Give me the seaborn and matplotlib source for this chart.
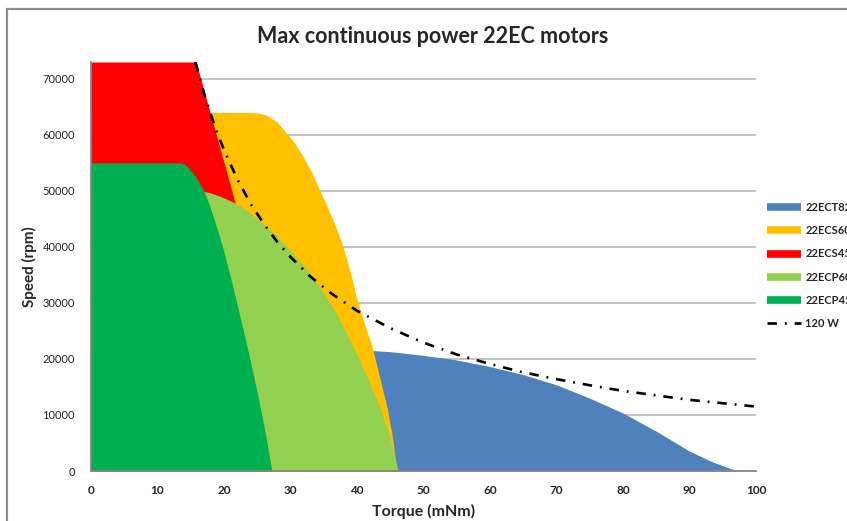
import matplotlib
matplotlib.use("Agg")
import matplotlib.pyplot as plt
import seaborn as sns
import pandas as pd
from matplotlib.lines import Line2D
from matplotlib.patches import Rectangle

# values (torque in mNm, speed in rpm)
t82_torque = [0, 42.4, 45, 49.6, 54.6, 60, 65, 70, 75, 80, 85, 90, 93.5, 97.2]
t82_speed = [21500, 21500, 21300, 20700, 19900, 18640, 17200, 15380, 13000, 10350, 7100, 3550, 1600, 0]

s60_torque = [0, 23.6, 25.0, 26.4, 28.0, 29.4, 30.7, 31.9, 33.2, 34.4, 35.4, 36.4, 37.2, 37.9, 39.0, 39.9,
              41.0, 42.2, 43.4, 44.6, 45.4, 46.0]
s60_speed = [64000, 64000, 63900, 63500, 62300, 60300, 58400, 56100, 53300, 50100, 47500, 44800, 42400, 40000,
             35500, 31100, 26700, 22500, 16800, 10900, 5500, 0]

s45_torque = [0, 15.8, 21.7, 27.0, 32.8]
s45_speed = [73000, 73000, 47800, 25000, 0]

p60_torque = [0, 16.0, 16.6, 17.8, 19.0, 20.3, 21.7, 23.1, 24.5, 26.0, 27.5, 30.0, 32.5, 34.6, 36.6, 38.6,
              40.6, 42.1, 43.6, 45.0, 46.2]
p60_speed = [50000, 50000, 50000, 49700, 49200, 48600, 47800, 46800, 45500, 44000, 42400, 39400, 35900, 32500,
             28750, 24200, 19230, 15200, 10900, 5800, 0]

p45_torque = [0, 13.4, 14.0, 14.6, 15.7, 16.9, 17.7, 18.5, 19.2, 19.9, 21.2, 22.4, 23.7, 24.9, 26.1, 27.2]
p45_speed = [55000, 55000, 54800, 54200, 52600, 50200, 47800, 45000, 42300, 39500, 33500, 27600, 21000, 14500,
             7500, 0]

w120_torque = [15.7, 17, 18, 19, 20, 22, 24, 26, 28, 30, 33, 36, 40, 45, 50, 55, 60, 65, 70, 75, 80, 85, 90, 95, 100]
w120_speed = [73000, 67400, 63700, 60300, 57300, 52100, 47700, 44100, 40900, 38200, 34700, 31800, 28600, 25500,
              22900, 20800, 19100, 17600, 16400, 15300, 14300, 13500, 12700, 12100, 11500]

labels = ["22ECT82", "22ECS60", "22ECS45", "22ECP60", "22ECP45"]
colors = ["#4F81BD", "#FFC000", "#FF0000", "#92D050", "#00B050"]
xticks = list(range(0, 101, 10))
yticks = list(range(0, 70001, 10000))

sns.set_theme(style="white")
plt.rcParams["font.family"] = ["Lato", "DejaVu Sans"]

fig = plt.figure(figsize=(8.47, 5.21), dpi=100)
ax = fig.add_axes([91 / 847, 50 / 521, 665 / 847, 409 / 521])

series = [(t82_torque, t82_speed), (s60_torque, s60_speed), (s45_torque, s45_speed),
          (p60_torque, p60_speed), (p45_torque, p45_speed)]
for (tq, sp), col in zip(series, colors):
    ax.fill_between(tq, sp, 0, color=col, linewidth=0, zorder=2)

dashdot = (0, (3.6, 3.0, 0.7, 3.0))
w120 = pd.DataFrame({"Torque": w120_torque, "Speed": w120_speed})
sns.lineplot(data=w120, x="Torque", y="Speed", ax=ax, color="black", lw=1.9,
             linestyle=dashdot, zorder=4)

ax.set_xlim(0, 100)
ax.set_ylim(0, 73000)
ax.set_xticks(xticks)
ax.set_yticks(yticks)
ax.set_xticklabels([str(v) for v in xticks], fontsize=8.5, fontweight="bold")
ax.set_yticklabels([str(v) for v in yticks], fontsize=8)
ax.tick_params(axis="both", direction="out", length=4, width=1, color="#868686")
ax.tick_params(axis="y", pad=7.5)
ax.tick_params(axis="x", pad=6)

for v in yticks[1:]:
    ax.axhline(v, color="#BFBFBF", lw=1.3, zorder=1)

for side in ["top", "right"]:
    ax.spines[side].set_visible(False)
for side in ["left", "bottom"]:
    ax.spines[side].set_color("#868686")
    ax.spines[side].set_linewidth(1.3)
    ax.spines[side].set_zorder(5)

ax.set_xlabel("Torque (mNm)", fontsize=11.5, fontweight="bold", labelpad=5.5)
ax.set_ylabel("Speed (rpm)", fontsize=11, fontweight="bold", labelpad=4)
fig.text(0.511, 0.929, "Max continuous power 22EC motors", ha="center", va="center",
         fontsize=15.5, fontweight="bold")

handles = [Line2D([0], [0], color=c, lw=5.5, solid_capstyle="butt") for c in colors]
handles.append(Line2D([0], [0], color="black", lw=1.9, linestyle=dashdot))
fig.legend(handles, labels + ["120 W"], loc="upper left", bbox_to_anchor=(767 / 847, 1 - 202 / 521),
           frameon=False, prop={"size": 8, "weight": "bold"}, handlelength=3.1, handletextpad=0.36,
           labelspacing=1.1, borderpad=0, borderaxespad=0)

# chart area border (left and top edges visible in the crop)
fig.patches.append(Rectangle((7 / 847, -0.1), 1.2, 1 - 9 / 521 + 0.1, transform=fig.transFigure,
                             fill=False, edgecolor="#8C8C8C", lw=1.6))

fig.savefig("out.png", dpi=100)
